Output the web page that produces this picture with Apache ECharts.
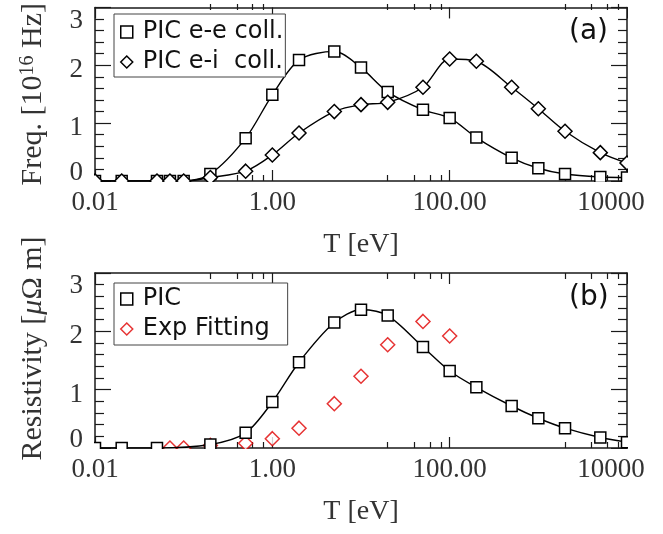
<!DOCTYPE html>
<html>
<head>
<meta charset="utf-8">
<script src="https://cdn.jsdelivr.net/npm/echarts@6/dist/echarts.min.js"></script>
<style>
  html, body { margin: 0; padding: 0; background: #fff; }
  #chart { width: 663px; height: 534px; }
</style>
</head>
<body>
<div id="chart"></div>
<script>
// Electron temperature samples [eV]
const tempsFreq = [0.01, 0.02, 0.05, 0.07, 0.1, 0.2, 0.5, 1, 2, 5, 10, 20, 50, 100, 200, 500, 1000, 2000, 5000, 10000];
// Collision frequencies [1e16 Hz]
const eeFreq = [0.0, 0.0, 0.0, 0.0, 0.0, 0.12, 0.74, 1.49, 2.09, 2.24, 1.96, 1.54, 1.23, 1.09, 0.75, 0.40, 0.22, 0.12, 0.07, 0.06];
const eiFreq = [0.0, 0.0, 0.0, 0.0, 0.0, 0.06, 0.17, 0.45, 0.83, 1.20, 1.32, 1.36, 1.62, 2.11, 2.07, 1.62, 1.25, 0.86, 0.49, 0.31];

// Resistivity [micro-ohm m]
const tempsPic = [0.01, 0.02, 0.05, 0.2, 0.5, 1, 2, 5, 10, 20, 50, 100, 200, 500, 1000, 2000, 5000, 10000];
const picRes = [0.0, 0.0, 0.0, 0.06, 0.26, 0.79, 1.47, 2.15, 2.37, 2.27, 1.73, 1.32, 1.04, 0.72, 0.51, 0.34, 0.18, 0.10];
const tempsFit = [0.07, 0.1, 0.2, 0.5, 1, 2, 5, 10, 20, 50, 100];
const fitRes = [0.0, 0.0, 0.045, 0.08, 0.16, 0.34, 0.76, 1.23, 1.77, 2.17, 1.92];

// Axis ticks and labels
const xTickValues = [0.01, 1, 100, 10000];
const xTickText = ['0.01', '1.00', '100.00', '10000'];
const xMinorTicks = [0.2, 0.4, 0.6, 0.8, 20, 40, 60, 80, 2000, 4000, 6000, 8000];
const yTickValues = [0, 1, 2, 3];
const yTickText = ['0', '1', '2', '3'];

const zip = (xs, ys) => xs.map((x, i) => [x, ys[i]]);

const SERIF = 'Liberation Serif';
const SANS = 'DejaVu Sans';
const AX = '#1a1a1a';

// panel boxes (pixels)
const panels = [
  { top: 4, height: 177 },
  { top: 273, height: 175 }
];
const LEFT = 95, RIGHT_EDGE = 627;

function xLabel(v) {
  const i = xTickValues.findIndex(t => Math.abs(Math.log10(t) - Math.log10(v)) < 1e-6);
  if (i < 0) return '';
  if (i === xTickValues.length - 1) return '{r|' + xTickText[i] + '}';
  return '{n|' + xTickText[i] + '}';
}
function yLabel(v) {
  const i = yTickValues.indexOf(Math.round(v));
  if (i < 0) return '';
  if (i === 0) return '{lo|' + yTickText[i] + '}';
  if (i === yTickValues.length - 1) return '{hi|' + yTickText[i] + '}';
  return '{mid|' + yTickText[i] + '}';
}

const tickFont = { fontFamily: SERIF, fontSize: 27, color: '#333' };

function xAxisFor(g, position, withLabels) {
  return {
    type: 'log', logBase: 10, gridIndex: g, position,
    min: 0.01, max: 10000, interval: 2,
    axisLine: { show: true, onZero: false, lineStyle: { color: AX, width: 1.5 } },
    axisTick: { show: true, inside: true, length: 11, lineStyle: { color: AX, width: 1.2 } },
    minorTick: { show: false },
    splitLine: { show: false },
    axisLabel: withLabels ? {
      show: true, margin: 8, formatter: xLabel,
      rich: {
        n: Object.assign({}, tickFont),
        r: Object.assign({ padding: [0, 32, 0, 0] }, tickFont)
      }
    } : { show: false },
    name: withLabels ? 'T [eV]' : '',
    nameLocation: 'middle', nameGap: 50,
    nameTextStyle: { fontFamily: SERIF, fontSize: 28, color: '#333' }
  };
}

// axis on a twin grid carrying only the short minor ticks of the log scale
function xMinorFor(g, position) {
  return {
    type: 'log', logBase: 10, gridIndex: g, position,
    min: 0.01, max: 10000, interval: 2,
    axisLine: { show: false, onZero: false },
    axisTick: { show: true, inside: true, length: 6, customValues: xMinorTicks, lineStyle: { color: AX, width: 1.2 } },
    splitLine: { show: false },
    axisLabel: { show: false }
  };
}

function yAxisFor(g, position, withLabels, name, nameStyle) {
  return {
    type: 'value', gridIndex: g, position,
    min: 0, max: 3, interval: 1,
    axisLine: { show: true, lineStyle: { color: AX, width: 1.5 } },
    axisTick: { show: true, inside: true, length: 16, lineStyle: { color: AX, width: 1.2 } },
    minorTick: { show: true, splitNumber: 5, length: 9, lineStyle: { color: AX, width: 1.2 } },
    splitLine: { show: false },
    axisLabel: withLabels ? {
      show: true, margin: 12, formatter: yLabel,
      rich: {
        lo: Object.assign({ padding: [0, 0, 17, 0] }, tickFont),
        mid: Object.assign({ padding: [10, 0, 0, 0] }, tickFont),
        hi: Object.assign({ padding: [26, 0, 0, 0] }, tickFont)
      }
    } : { show: false },
    name: withLabels ? name : '',
    nameLocation: 'middle', nameRotate: 90, nameGap: 47,
    nameTextStyle: nameStyle
  };
}

const nameRich = {
  n: { fontFamily: SERIF, fontSize: 30, color: '#333' },
  s: { fontFamily: SERIF, fontSize: 20, color: '#333', verticalAlign: 'top', padding: [0, 0, 10, 0] },
  it: { fontFamily: SERIF, fontSize: 30, color: '#333', fontStyle: 'italic' }
};
const freqNameStyle = { fontFamily: SERIF, fontSize: 30, color: '#333', rich: nameRich };
const resNameStyle = { fontFamily: SERIF, fontSize: 30, color: '#333', rich: nameRich, padding: [0, 0, 0, 24] };

const hiddenY = (g) => ({ type: 'value', gridIndex: g, min: 0, max: 3, show: false });

const markStyle = (color) => ({ color: '#fff', borderColor: color, borderWidth: 1.5 });

const legendBase = {
  orient: 'vertical', itemWidth: 12, itemHeight: 12, itemGap: 6,
  borderColor: '#444', borderWidth: 1, backgroundColor: '#fff',
  selectedMode: false,
  itemStyle: { color: '#fff', borderColor: 'inherit', borderWidth: 1.5 },
  textStyle: { fontFamily: SANS, fontSize: 24, color: '#111', padding: [0, 0, 0, 5] }
};

// white strips just outside each plot box so marks clip at the frame
const masks = [];
panels.forEach(p => {
  const b = p.top + p.height;
  masks.push({ type: 'rect', shape: { x: 80, y: b + 1, width: 570, height: 8 } });
  masks.push({ type: 'rect', shape: { x: 80, y: Math.max(0, p.top - 9), width: 570, height: Math.min(8, p.top - 1) } });
  masks.push({ type: 'rect', shape: { x: 84, y: p.top - 8, width: LEFT - 1 - 84, height: p.height + 16 } });
  masks.push({ type: 'rect', shape: { x: RIGHT_EDGE + 1, y: p.top - 8, width: 12, height: p.height + 16 } });
});
masks.forEach(m => { m.style = { fill: '#fff' }; m.z = 50; m.silent = true; });

const gridBoxes = panels.map(p => ({ left: LEFT, width: RIGHT_EDGE - LEFT, top: p.top, height: p.height }));

const option = {
  animation: false,
  backgroundColor: '#fff',
  // grids 0,1: plotted panels; grids 2,3: twins holding the minor x ticks
  grid: gridBoxes.concat(gridBoxes.map(b => Object.assign({}, b))),
  xAxis: [
    xAxisFor(0, 'bottom', true), xAxisFor(0, 'top', false),
    xAxisFor(1, 'bottom', true), xAxisFor(1, 'top', false),
    xMinorFor(2, 'bottom'), xMinorFor(2, 'top'),
    xMinorFor(3, 'bottom'), xMinorFor(3, 'top')
  ],
  yAxis: [
    yAxisFor(0, 'left', true, '{n|Freq. [10}{s|16}{n| Hz]}', freqNameStyle), yAxisFor(0, 'right', false),
    yAxisFor(1, 'left', true, '{n|Resistivity [}{it|μ}{n|Ω m]}', resNameStyle), yAxisFor(1, 'right', false),
    hiddenY(2), hiddenY(3)
  ],
  legend: [
    Object.assign({}, legendBase, {
      left: 114, top: 14, padding: [6, 2, 3, 6],
      data: [{ name: 'PIC e-e coll.', icon: 'rect' }, { name: 'PIC e-i  coll.', icon: 'diamond' }]
    }),
    Object.assign({}, legendBase, {
      left: 114, top: 283, padding: [4, 18, 4, 6],
      data: [{ name: 'PIC', icon: 'rect' }, { name: 'Exp Fitting', icon: 'diamond' }]
    })
  ],
  graphic: masks.concat([
    { type: 'text', left: 569, top: 18, z: 60, style: { text: '(a)', font: '28px "DejaVu Sans"', fill: '#111' } },
    { type: 'text', left: 569, top: 284, z: 60, style: { text: '(b)', font: '28px "DejaVu Sans"', fill: '#111' } }
  ]),
  series: [
    {
      type: 'line', name: 'PIC e-e coll.', xAxisIndex: 0, yAxisIndex: 0,
      data: zip(tempsFreq, eeFreq), smooth: 0.3, symbol: 'rect', symbolSize: 11,
      lineStyle: { color: '#000', width: 1.4 }, itemStyle: markStyle('#000')
    },
    {
      type: 'line', name: 'PIC e-i  coll.', xAxisIndex: 0, yAxisIndex: 0,
      data: zip(tempsFreq, eiFreq), smooth: 0.3, symbol: 'diamond', symbolSize: 14,
      lineStyle: { color: '#000', width: 1.4 }, itemStyle: markStyle('#000')
    },
    {
      type: 'line', name: 'PIC', xAxisIndex: 2, yAxisIndex: 2,
      data: zip(tempsPic, picRes), smooth: 0.3, symbol: 'rect', symbolSize: 11,
      lineStyle: { color: '#000', width: 1.4 }, itemStyle: markStyle('#000')
    },
    {
      type: 'scatter', name: 'Exp Fitting', xAxisIndex: 2, yAxisIndex: 2,
      data: zip(tempsFit, fitRes), symbol: 'diamond', symbolSize: 14,
      itemStyle: markStyle('#e00000')
    }
  ]
};

const chart = echarts.init(document.getElementById('chart'), null, { renderer: 'canvas' });
chart.setOption(option);
</script>
</body>
</html>
